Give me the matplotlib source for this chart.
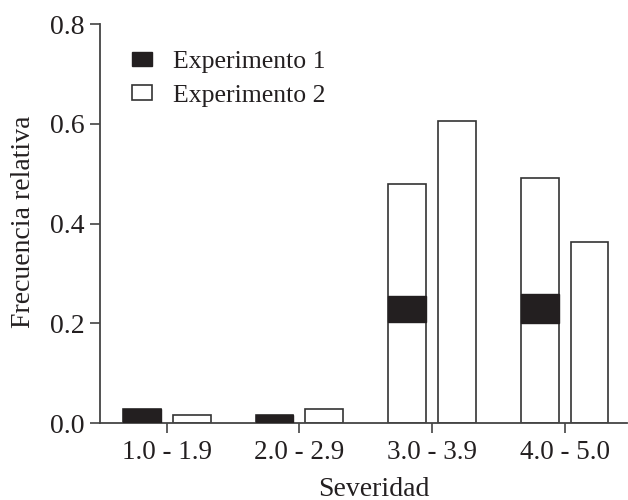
import matplotlib
matplotlib.use("Agg")
import matplotlib.pyplot as plt
import numpy as np

categories = ["1.0 - 1.9", "2.0 - 2.9", "3.0 - 3.9", "4.0 - 5.0"]
# Experimento 1: outlined bar height and dark (filled) segment bounds
exp1_outline = [0.028, 0.017, 0.479, 0.491]
exp1_dark_low = [0.0, 0.0, 0.202, 0.200]
exp1_dark_high = [0.028, 0.017, 0.256, 0.259]
# Experimento 2
exp2 = [0.016, 0.028, 0.606, 0.363]
yticks = [0.0, 0.2, 0.4, 0.6, 0.8]

plt.rcParams['font.family'] = ['Liberation Serif', 'DejaVu Serif']

fig = plt.figure(figsize=(6.28, 5), dpi=100)
ax = fig.add_axes([100/628, 1 - 423.3/500, 527/628, (423.3 - 24)/500])

x = np.arange(len(categories))
w = 0.285
off = 0.188
edge = '#333333'
dark = '#231f20'

ax.bar(x - off, exp1_outline, width=w, color='white', edgecolor=edge, linewidth=1.2, zorder=2)
ax.bar(x - off, np.array(exp1_dark_high) - np.array(exp1_dark_low), bottom=exp1_dark_low,
       width=w, color=dark, edgecolor=dark, linewidth=1.0, zorder=3, label='Experimento 1')
ax.bar(x + off, exp2, width=w, color='white', edgecolor=edge, linewidth=1.2, zorder=2,
       label='Experimento 2')

ax.set_xlim(-0.503, 3.47)
ax.set_ylim(0, 0.8)
ax.set_yticks(yticks)
ax.set_yticklabels([f"{v:.1f}" for v in yticks])
ax.set_xticks(x)
ax.set_xticklabels(categories)

for s in ['top', 'right']:
    ax.spines[s].set_visible(False)
for s in ['left', 'bottom']:
    ax.spines[s].set_color('#444444')
    ax.spines[s].set_linewidth(1.3)

ax.tick_params(axis='both', direction='out', length=7, width=1.2, color='#444444',
               labelsize=20, labelcolor='#231f20')
ax.tick_params(axis='y', pad=4)
ax.tick_params(axis='x', labelsize=19.5, pad=5)

fig.text(374/628, 1 - 489/500, 'Severidad', ha='center', va='center', fontsize=20, color='#231f20')
fig.text(24/628, 1 - 222/500, 'Frecuencia relativa', ha='center', va='center', rotation=90,
         fontsize=20, color='#231f20')

leg = ax.legend(loc='upper left', bbox_to_anchor=(0.06, 0.932), frameon=False, fontsize=18.5,
                handlelength=0.8, handleheight=0.5, handletextpad=0.8, labelspacing=0.45,
                borderaxespad=0, borderpad=0)
for t in leg.get_texts():
    t.set_color('#231f20')

fig.savefig('out.png', dpi=100)
